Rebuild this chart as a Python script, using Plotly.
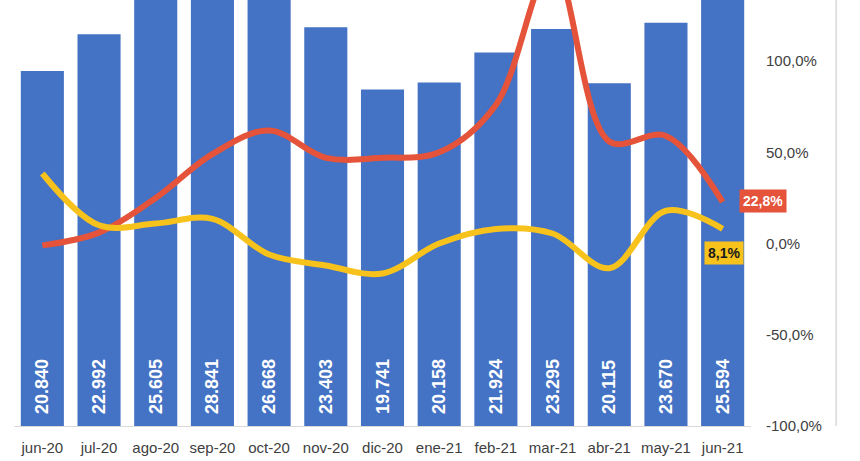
import plotly.graph_objects as go

categories = ["jun-20", "jul-20", "ago-20", "sep-20", "oct-20", "nov-20", "dic-20",
              "ene-21", "feb-21", "mar-21", "abr-21", "may-21", "jun-21"]
volume = [20840, 22992, 25605, 28841, 26668, 23403, 19741,
          20158, 21924, 23295, 20115, 23670, 25594]
red_pct = [-1.0, 6.0, 25.0, 49.0, 62.0, 47.0, 47.0, 50.0, 76.0, 152.0, 56.0, 59.0, 22.8]
yellow_pct = [38.4, 10.0, 11.0, 13.5, -6.0, -12.0, -16.4, 0.0, 8.0, 5.5, -13.5, 18.0, 8.1]
pct_ticks = [-100, -50, 0, 50, 100]
pct_labels = ["-100,0%", "-50,0%", "0,0%", "50,0%", "100,0%"]

BLUE = "#4472C4"
RED = "#E4533A"
YELLOW = "#F7C21B"
TXT = "#404040"
FONT = "Liberation Sans, Arial, sans-serif"

fig = go.Figure()
fig.add_trace(go.Bar(
    x=categories, y=volume, marker=dict(color=BLUE, line=dict(width=0)),
    texttemplate="\u2002%{y:,.0f}", textposition="inside", insidetextanchor="start",
    textangle=-90, textfont=dict(color="white", size=18, family=FONT, weight="bold"),
    hoverinfo="skip", yaxis="y"))
fig.add_trace(go.Scatter(
    x=categories, y=red_pct, mode="lines", yaxis="y2",
    line=dict(color=RED, width=6, shape="spline", smoothing=1.0)))
fig.add_trace(go.Scatter(
    x=categories, y=yellow_pct, mode="lines", yaxis="y2",
    line=dict(color=YELLOW, width=6, shape="spline", smoothing=1.0)))

fig.add_annotation(x=categories[-1], y=red_pct[-1], xref="x", yref="y2",
                   text="<b>22,8%</b>", showarrow=False, xshift=40, yshift=1,
                   bgcolor=RED, font=dict(color="white", size=14, family=FONT),
                   borderpad=3)
fig.add_annotation(x=categories[-1], y=yellow_pct[-1], xref="x", yref="y2",
                   text="<b>8,1%</b>", showarrow=False, xshift=1, yshift=-24,
                   bgcolor=YELLOW, font=dict(color="#1a1a1a", size=14, family=FONT),
                   borderpad=3)

fig.add_shape(type="line", xref="paper", yref="paper", x0=1.1155, x1=1.1155, y0=0, y1=1,
              line=dict(color="#d9d9d9", width=1.5))

fig.update_layout(
    width=860, height=461,
    margin=dict(l=14, r=109, t=0, b=35),
    paper_bgcolor="white", plot_bgcolor="white",
    separators=",.",
    showlegend=False, bargap=0.24,
    font=dict(family=FONT, color=TXT, size=15),
    xaxis=dict(showline=True, linecolor="#d9d9d9", linewidth=1, ticks="",
               range=[-0.5, len(categories) - 0.5], autorange=False,
               tickfont=dict(size=15, color=TXT), ticklabelstandoff=8),
    yaxis=dict(visible=False, range=[0, 25000], showgrid=False),
    yaxis2=dict(overlaying="y", side="right", range=[-100, 133.5],
                tickvals=pct_ticks, ticktext=pct_labels,
                showgrid=False, zeroline=False, showline=False,
                tickfont=dict(size=15, color=TXT), ticklabelstandoff=14),
)

fig.write_html("out.html", config={"displayModeBar": False},
               post_script="document.body.style.margin='0';document.body.style.overflow='hidden';")
